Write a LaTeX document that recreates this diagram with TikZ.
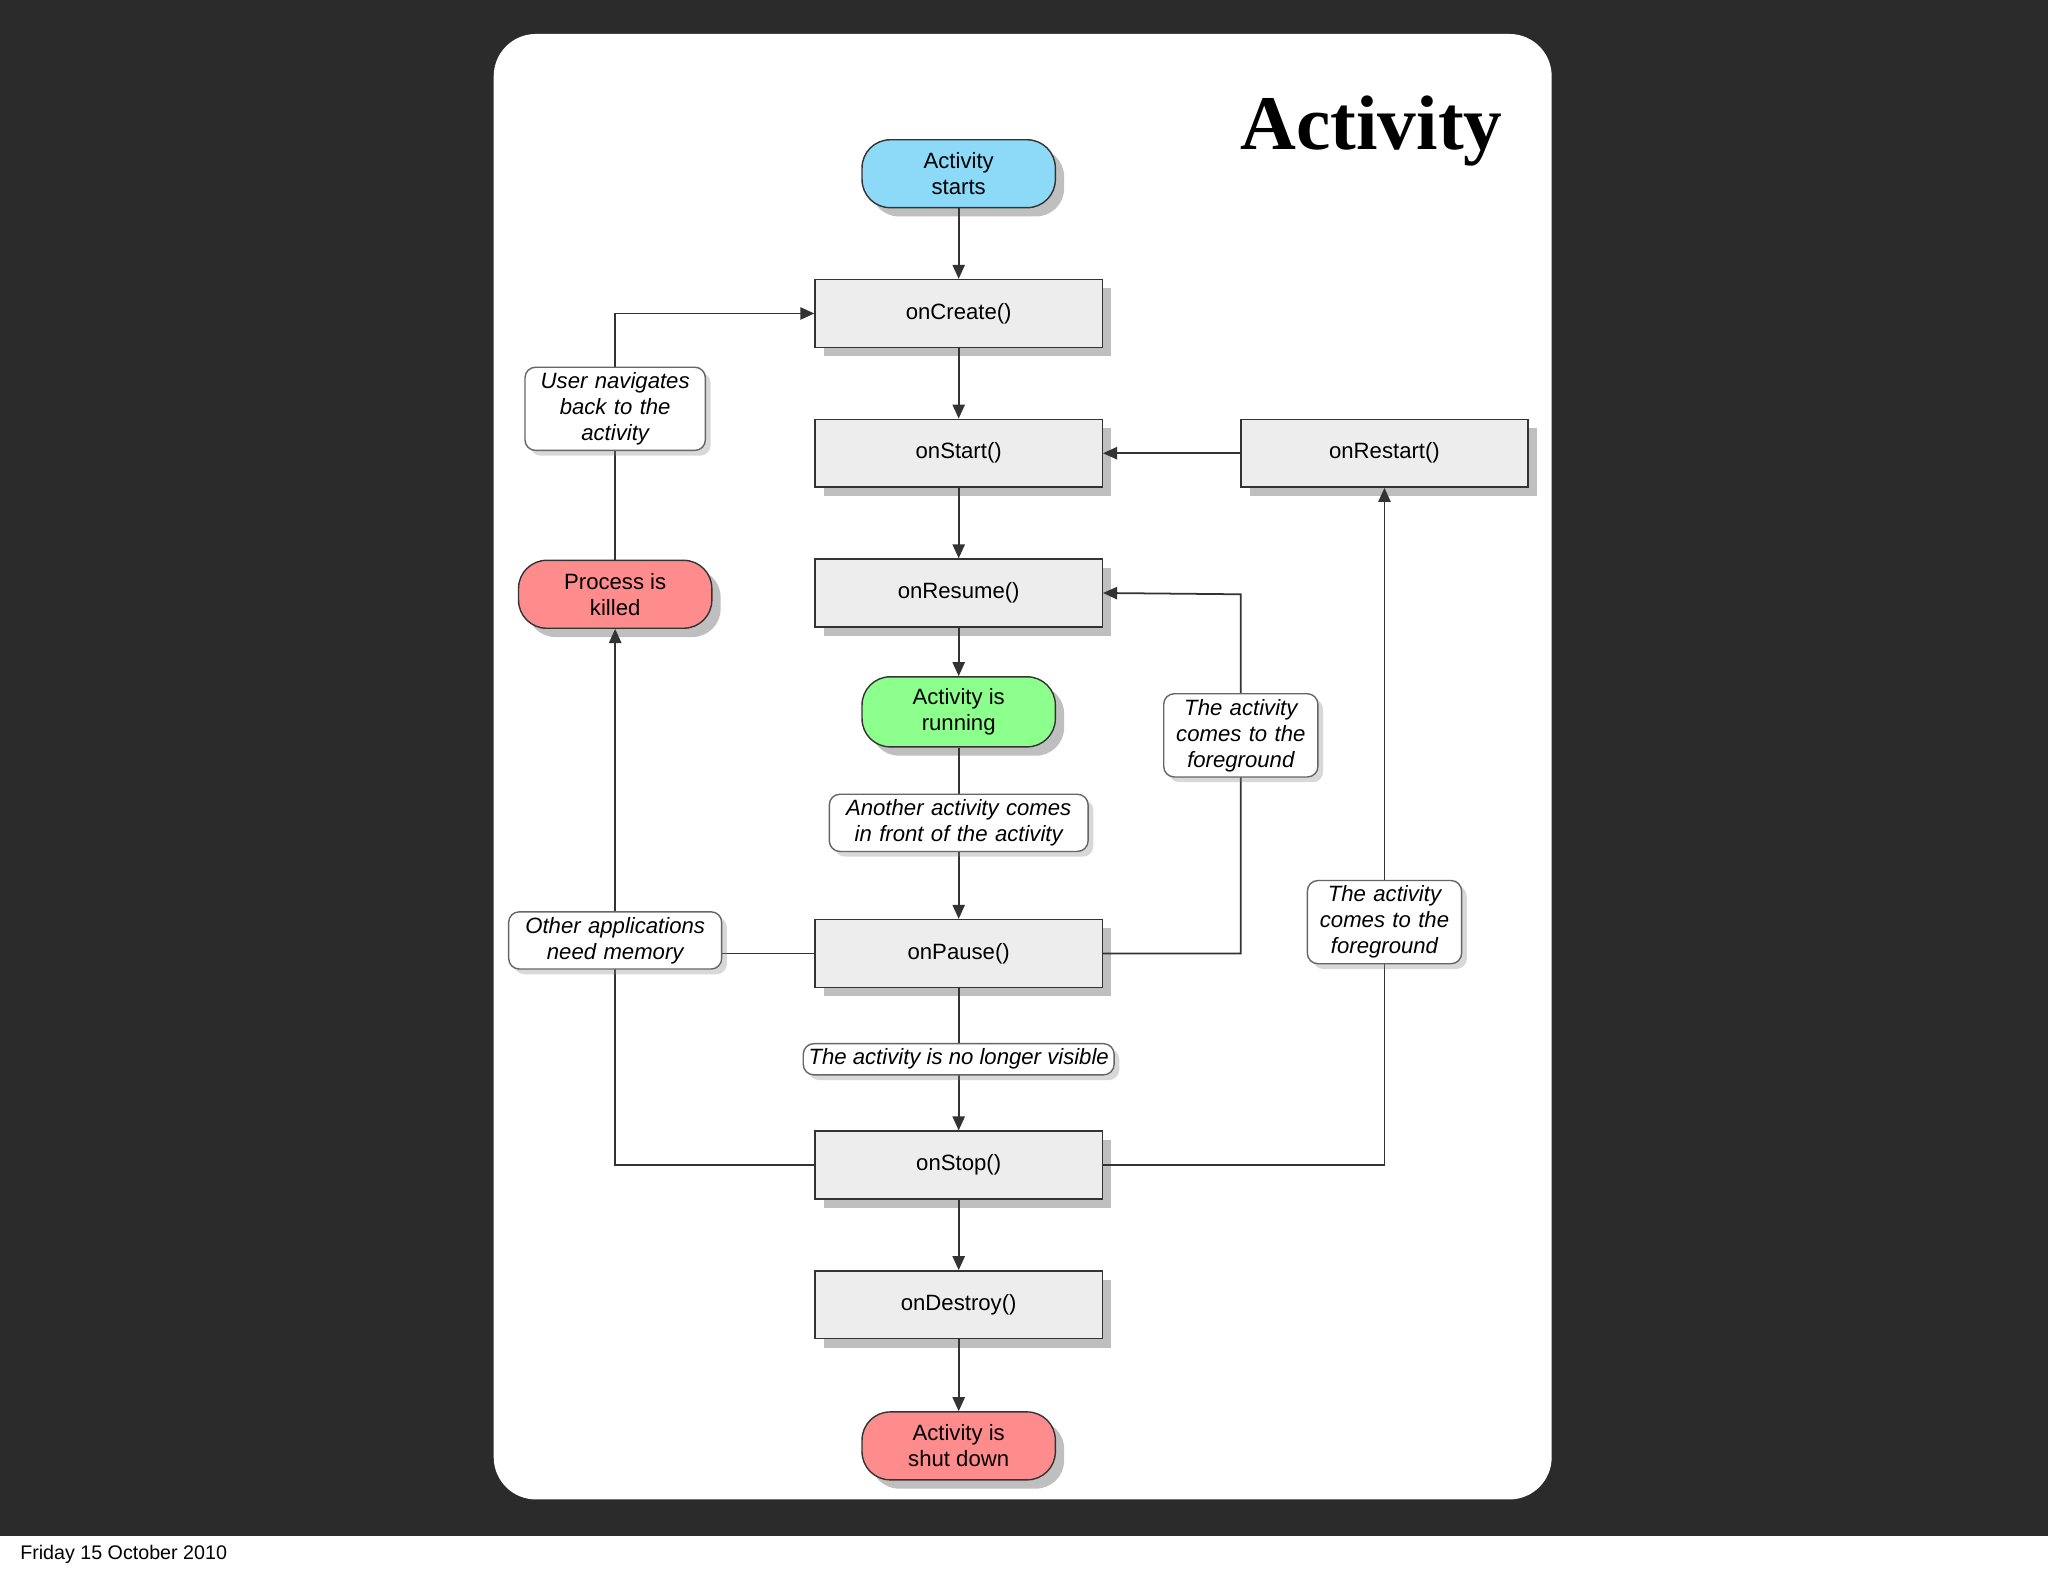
\documentclass[tikz,border=0pt]{standalone}
\usepackage{fontspec}
\setmainfont{Liberation Sans}
\newfontfamily\titlefont{Liberation Serif}
\usetikzlibrary{shadows,arrows.meta}
\begin{document}
\begin{tikzpicture}[x=0.013061cm,y=-0.013061cm,
  box/.style={draw=black!80,fill=black!7,minimum width=220*0.013061cm,minimum height=52*0.013061cm,font=\fontsize{6.3}{7.5}\selectfont,drop shadow={opacity=0.5,shadow xshift=2.5pt,shadow yshift=-2.5pt}},
  pill/.style={draw=black!80,rounded corners=8pt,minimum width=148*0.013061cm,minimum height=52*0.013061cm,align=center,font=\fontsize{6.3}{7.4}\selectfont,drop shadow={opacity=0.5,shadow xshift=2.5pt,shadow yshift=-2.5pt}},
  lab/.style={draw=black!60,fill=white,rounded corners=3pt,align=center,inner sep=1.5pt,font=\itshape\fontsize{6.3}{7.4}\selectfont,drop shadow={opacity=0.3,shadow xshift=1.5pt,shadow yshift=-1.5pt}},
  arr/.style={-{Triangle[length=4pt,width=3.5pt]},black!80,line width=0.5pt},
  ln/.style={black!80,line width=0.5pt}]
\useasboundingbox (0,0) rectangle (1568,1206);
\fill[black!83] (0,0) rectangle (1568,1176);
\fill[white] (0,1176) rectangle (1568,1206);
\node[anchor=west,font=\fontsize{5.6}{6}\selectfont] (date) at (6,1190) {Friday 15 October 2010};
\fill[white,rounded corners=12pt] (378,26) rectangle (1188,1148);
\node[font=\titlefont\bfseries\fontsize{22}{26}\selectfont] (title) at (1050,100) {Activity};
\node[pill,fill=cyan!45] (starts) at (734,133) {Activity\\starts};
\node[box] (create) at (734,240) {onCreate()};
\node[box] (start) at (734,347) {onStart()};
\node[box] (restart) at (1060,347) {onRestart()};
\node[box] (resume) at (734,454) {onResume()};
\node[pill,fill=green!45] (running) at (734,545) {Activity is\\running};
\node[box] (pause) at (734,730) {onPause()};
\node[box] (stop) at (734,892) {onStop()};
\node[box] (destroy) at (734,999) {onDestroy()};
\node[pill,fill=red!45] (shut) at (734,1107) {Activity is\\shut down};
\node[pill,fill=red!45] (killed) at (471,455) {Process is\\killed};
\coordinate (cA) at (950,730);
\coordinate (cB) at (950,455);
\coordinate (cC) at (1060,892);
\coordinate (cD) at (471,730);
\coordinate (cE) at (471,892);
\coordinate (cF) at (471,240);
\draw[arr] (starts) -- (create);
\draw[arr] (create) -- (start);
\draw[arr] (start) -- (resume);
\draw[arr] (resume) -- (running);
\draw[arr] (running) -- (pause);
\draw[arr] (pause) -- (stop);
\draw[arr] (stop) -- (destroy);
\draw[arr] (destroy) -- (shut);
\draw[arr] (restart) -- (start);
\draw[arr] (pause.east) -- (cA) -- (cB) -- (resume.east);
\draw[arr] (stop.east) -- (cC) -- (restart.south);
\draw[arr] (pause.west) -- (cD) -- (killed.south);
\draw[ln] (stop.west) -- (cE) -- (cD);
\draw[arr] (killed.north) -- (cF) -- (create.west);
\node[lab,text width=130*0.013061cm] (l1) at (471,313) {User navigates\\back to the\\activity};
\node[lab,text width=110*0.013061cm] (l2) at (950,563) {The activity\\comes to the\\foreground};
\node[lab,text width=110*0.013061cm] (l3) at (1060,706) {The activity\\comes to the\\foreground};
\node[lab,text width=190*0.013061cm] (l4) at (734,630) {Another activity comes\\in front of the activity};
\node[lab,text width=155*0.013061cm] (l5) at (471,720) {Other applications\\need memory};
\node[lab] (l6) at (734,811) {The activity is no longer visible};
\end{tikzpicture}
\end{document}
